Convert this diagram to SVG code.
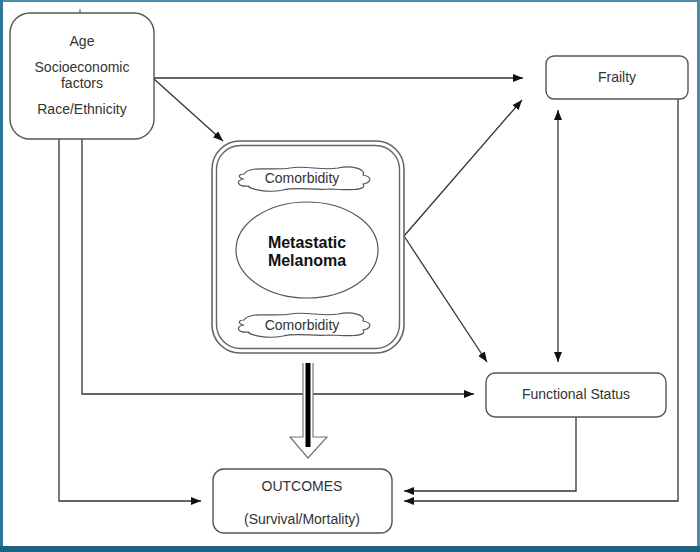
<svg xmlns="http://www.w3.org/2000/svg" width="700" height="552" viewBox="0 0 700 552">
<style>
.box{fill:#fff;stroke:#555;stroke-width:1.4}
.t{font-family:"Liberation Sans",Arial,sans-serif;font-size:14px;fill:#333;text-anchor:middle}
.b{font-weight:bold;font-size:16px;fill:#111}
.ln{fill:none;stroke:#333;stroke-width:1.3}
.arr{marker-end:url(#ah)}
</style>
<defs>
<marker id="ah" markerUnits="userSpaceOnUse" markerWidth="12" markerHeight="10" refX="10" refY="4" orient="auto">
<path d="M0,0 L10,4 L0,8 Z" fill="#111"/>
</marker>
<marker id="ahs" markerUnits="userSpaceOnUse" markerWidth="12" markerHeight="10" refX="10" refY="4" orient="auto-start-reverse">
<path d="M0,0 L10,4 L0,8 Z" fill="#111"/>
</marker>
<path id="cloud" d="M244,174 C250,165 272,171 290,168 C306,165 322,171 338,168 C352,165 366,169 363,175 C374,177 370,183 363,184 C368,191 346,190 330,189 C314,191 298,186 283,190 C268,193 252,190 248,186 C238,187 235,181 243,179 C237,177 239,174 244,174 Z" fill="#fff" stroke="#555" stroke-width="1.2"/>
</defs>
<rect x="0" y="0" width="700" height="552" fill="#fff"/>
<rect x="0" y="0" width="700" height="2" fill="#4b8ca6"/>
<rect x="0" y="0" width="3" height="552" fill="#2f7699"/>
<rect x="697" y="0" width="3" height="552" fill="#4b8ca6"/>
<rect x="0" y="546" width="700" height="6" fill="#1c6283"/>

<g id="connectors">
<line class="ln arr" x1="154" y1="78" x2="523" y2="78"/>
<line class="ln arr" x1="154" y1="79" x2="223" y2="141"/>
<line class="ln arr" x1="404" y1="236" x2="522" y2="100"/>
<line class="ln arr" x1="404" y1="236" x2="487" y2="362"/>
<line class="ln" x1="558" y1="110" x2="558" y2="362" marker-start="url(#ahs)" marker-end="url(#ah)"/>
<polyline class="ln arr" points="678,99 678,501 404,501"/>
<polyline class="ln arr" points="576,417 576,491 404,491"/>
<polyline class="ln arr" points="59,139 59,501 201,501"/>
<polyline class="ln arr" points="82,139 82,394 474,394"/>
<line x1="80" y1="9" x2="80" y2="16" stroke="#555" stroke-width="1"/>
<g id="big-arrow">
<path d="M303,363 L303,437 L290,437 L308,458 L327,437 L313,437 L313,363" fill="#fff" stroke="#777" stroke-width="1.2"/>
<rect x="305.5" y="363" width="5" height="84" fill="#000"/>
</g>
</g>

<g id="demographics">
<rect class="box" x="10" y="13" width="144" height="126" rx="20"/>
<text class="t" x="82" y="46">Age</text>
<text class="t" x="82" y="72">Socioeconomic</text>
<text class="t" x="82" y="88">factors</text>
<text class="t" x="82" y="114">Race/Ethnicity</text>
</g>

<g id="melanoma">
<rect x="212" y="141" width="192" height="212" rx="28" fill="#fff" stroke="#666" stroke-width="1.6"/>
<rect x="216.5" y="145.5" width="183" height="203" rx="24" fill="none" stroke="#666" stroke-width="1.4"/>
<use href="#cloud"/>
<text class="t" x="302" y="183">Comorbidity</text>
<use href="#cloud" transform="translate(0,146)"/>
<text class="t" x="302" y="330">Comorbidity</text>
<ellipse cx="307" cy="250" rx="71" ry="48" fill="#fff" stroke="#555" stroke-width="1.2"/>
<text class="t b" x="307" y="248">Metastatic</text>
<text class="t b" x="307" y="266">Melanoma</text>
</g>

<g id="frailty">
<rect class="box" x="546" y="56" width="142" height="43" rx="8"/>
<text class="t" x="617" y="82">Frailty</text>
</g>

<g id="functional">
<rect class="box" x="486" y="373" width="180" height="44" rx="9"/>
<text class="t" x="576" y="399">Functional Status</text>
</g>

<g id="outcomes">
<rect class="box" x="213" y="469" width="179" height="64" rx="11"/>
<text class="t" x="302" y="491">OUTCOMES</text>
<text class="t" x="302" y="524">(Survival/Mortality)</text>
</g>
</svg>
